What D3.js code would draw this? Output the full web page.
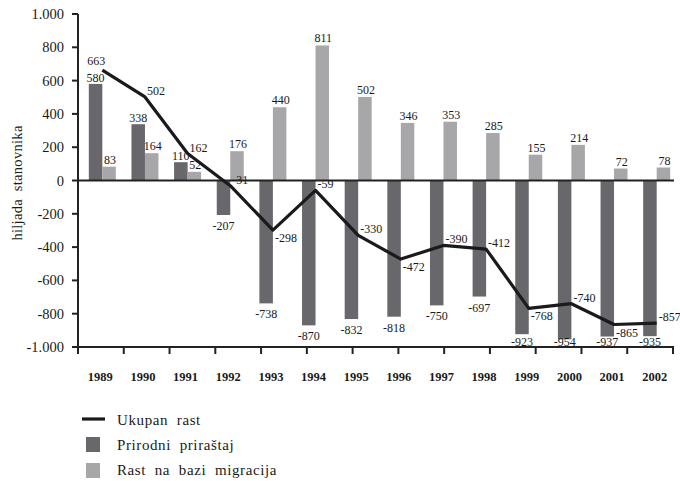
<!DOCTYPE html>
<html><head><meta charset="utf-8">
<script src="https://cdn.jsdelivr.net/npm/d3@7"></script>
<style>
body{margin:0;background:#fff;}
text{font-family:"Liberation Serif","DejaVu Serif",serif;fill:#1a1a1a;white-space:pre;}
</style></head>
<body><svg id="c" width="680" height="481"></svg>
<script>
const years = ["1989","1990","1991","1992","1993","1994","1995","1996","1997","1998","1999","2000","2001","2002"];
const prirodni = [580,338,110,-207,-738,-870,-832,-818,-750,-697,-923,-954,-937,-935];
const migracija = [83,164,52,176,440,811,502,346,353,285,155,214,72,78];
const ukupan = [663,502,162,-31,-298,-59,-330,-472,-390,-412,-768,-740,-865,-857];
const yTicks = [1000,800,600,400,200,0,-200,-400,-600,-800,-1000];
const yTickLabels = ["1.000","800","600","400","200","0","-200","-400","-600","-800","-1.000"];
const seriesNames = ["Ukupan  rast","Prirodni  priraštaj","Rast  na  bazi  migracija"];

const svg = d3.select("#c");
const darkC = "#68686c", lightC = "#a7a7aa", lineC = "#1a1a1a";
const x0 = 78, x1 = 673;
const x = d3.scaleBand().domain(years).range([81, 678]);
const tickX = d3.scalePoint().domain(years).range([x0, x1]);
const y = d3.scaleLinear().domain([-1000, 1000]).range([347, 14]);
const bw = 13.5;
const cx = d => x(d) + x.bandwidth()/2;

// bars
const g = svg.append("g");
g.selectAll(".dk").data(years).enter().append("rect")
  .attr("x", (d)=>cx(d)-bw).attr("width", bw)
  .attr("y", (d,i)=>y(Math.max(0,prirodni[i])))
  .attr("height", (d,i)=>Math.abs(y(prirodni[i])-y(0)))
  .attr("fill", darkC);
g.selectAll(".lt").data(years).enter().append("rect")
  .attr("x", (d)=>cx(d)).attr("width", bw)
  .attr("y", (d,i)=>y(Math.max(0,migracija[i])))
  .attr("height", (d,i)=>Math.abs(y(migracija[i])-y(0)))
  .attr("fill", lightC);

// axes
svg.append("line").attr("x1",x0).attr("x2",x0).attr("y1",y(1000)).attr("y2",y(-1000))
  .attr("stroke","#222").attr("stroke-width",2);
svg.append("line").attr("x1",x0).attr("x2",x1+1).attr("y1",y(0)).attr("y2",y(0))
  .attr("stroke","#222").attr("stroke-width",2);
svg.append("line").attr("x1",x0).attr("x2",x1+1).attr("y1",y(-1000)).attr("y2",y(-1000))
  .attr("stroke","#222").attr("stroke-width",2);
yTicks.forEach((t,i)=>{
  svg.append("line").attr("x1",x0-6).attr("x2",x0).attr("y1",y(t)).attr("y2",y(t))
    .attr("stroke","#222").attr("stroke-width",2);
  svg.append("text").attr("x",x0-14).attr("y",y(t)+5).attr("text-anchor","end")
    .attr("font-size",14.5).text(yTickLabels[i]);
});
years.forEach(d=>{
  svg.append("line").attr("x1",tickX(d)).attr("x2",tickX(d)).attr("y1",y(-1000)).attr("y2",y(-1000)+7)
    .attr("stroke","#222").attr("stroke-width",2);
});
years.forEach(d=>{
  svg.append("text").attr("x",cx(d)-2).attr("y",381).attr("text-anchor","middle")
    .attr("font-size",12.5).attr("font-weight","bold").text(d);
});

// y title
svg.append("text").attr("transform","translate(22,183) rotate(-90)").attr("text-anchor","middle")
  .attr("font-size",14.5).attr("letter-spacing",0.3).text("hiljada  stanovnika");

// bar labels
years.forEach((d,i)=>{
  const v = prirodni[i];
  const ty = v >= 0 ? y(v)-2 : Math.min(y(v)+15, 346);
  svg.append("text").attr("x",cx(d)-bw/2).attr("y",ty).attr("text-anchor","middle")
    .attr("font-size",12).text(v);
  const m = migracija[i];
  svg.append("text").attr("x",cx(d)+bw/2+1).attr("y",y(m)-3).attr("text-anchor","middle")
    .attr("font-size",12).text(m);
});

// line
const line = d3.line().x((v,i)=>cx(years[i])).y(v=>y(v));
svg.append("path").attr("d", line(ukupan)).attr("fill","none")
  .attr("stroke",lineC).attr("stroke-width",3.2).attr("stroke-linejoin","round");
ukupan.forEach((v,i)=>{
  const px = cx(years[i]), py = y(v);
  const prev = i>0 ? ukupan[i-1] : null, next = i<ukupan.length-1 ? ukupan[i+1] : null;
  const valley = prev!==null && next!==null && v<prev && v<next;
  let tx = px+2, ty = valley ? py+12 : py-2, anchor = "start";
  if (i===0){ tx = px-6; ty = py-5; anchor = "middle"; }
  svg.append("text").attr("x",tx).attr("y",ty).attr("text-anchor",anchor)
    .attr("font-size",12).text(v);
});

// legend
const lg = svg.append("g");
lg.append("line").attr("x1",82).attr("x2",105).attr("y1",419).attr("y2",419)
  .attr("stroke",lineC).attr("stroke-width",3.2);
lg.append("rect").attr("x",86).attr("y",437).attr("width",14).attr("height",15).attr("fill",darkC);
lg.append("rect").attr("x",86).attr("y",463).attr("width",14).attr("height",15).attr("fill",lightC);
[425,450,475].forEach((yy,i)=>{
  lg.append("text").attr("x",117).attr("y",yy).attr("font-size",15)
    .attr("letter-spacing",0.6).text(seriesNames[i]);
});
</script></body></html>
